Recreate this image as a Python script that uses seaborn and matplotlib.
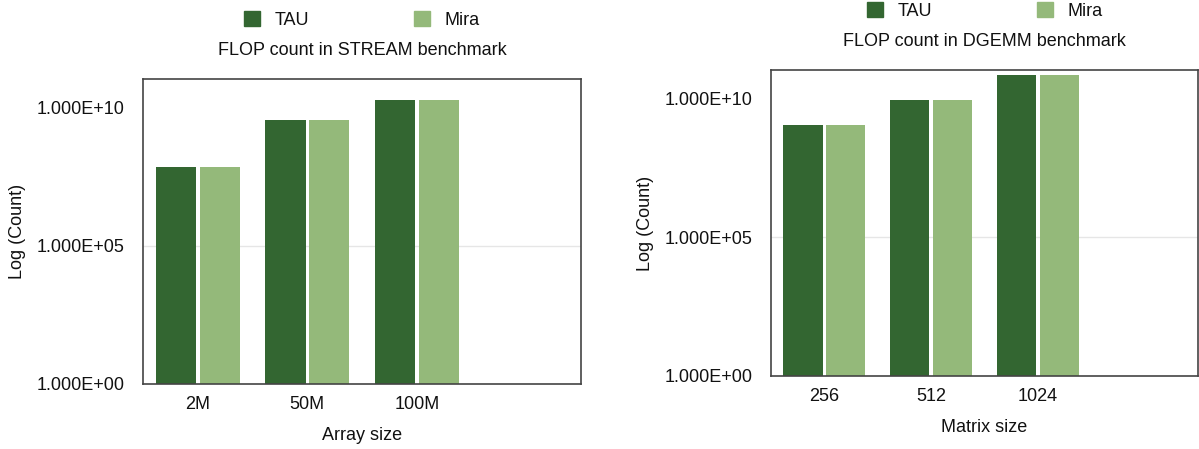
import numpy as np
import pandas as pd
import matplotlib
matplotlib.use('Agg')
import matplotlib.pyplot as plt
import seaborn as sns
from matplotlib.ticker import FixedLocator, FuncFormatter, NullLocator
from matplotlib.patches import Patch

# data
stream_sizes = ['2M', '50M', '100M']
stream_tau = [7.2e7, 3.7e9, 1.9e10]
stream_mira = [7.2e7, 3.7e9, 1.9e10]

dgemm_sizes = ['256', '512', '1024']
dgemm_tau = [1.1e9, 9.2e9, 7.3e10]
dgemm_mira = [1.1e9, 9.2e9, 7.3e10]

tools = ['TAU', 'Mira']
palette = {'TAU': '#336631', 'Mira': '#94b97a'}

sns.set_theme(style='white')
plt.rcParams['font.family'] = ['Liberation Sans', 'DejaVu Sans']
plt.rcParams['font.size'] = 13


def make_frame(sizes, tau, mira):
    df = pd.DataFrame({'size': sizes * 2,
                       'tool': ['TAU'] * len(sizes) + ['Mira'] * len(sizes),
                       'count': list(tau) + list(mira)})
    return df


def draw_panel(ax, sizes, tau, mira, title, xlabel):
    df = make_frame(sizes, tau, mira)
    # empty 4th slot like the original
    order = sizes + [' ']
    sns.barplot(data=df, x='size', y='count', hue='tool', order=order,
                hue_order=tools, palette=palette, width=0.8, gap=0.08,
                saturation=1, linewidth=0, ax=ax, legend=False)
    ax.set_yscale('log')
    ax.set_ylim(1, 1.1e11)
    ax.yaxis.set_major_locator(FixedLocator([1, 1e5, 1e10]))
    ax.yaxis.set_minor_locator(NullLocator())
    ax.yaxis.set_major_formatter(FuncFormatter(lambda v, p: f'{v:.3E}'))
    ax.axhline(1e5, color='#e6e6e6', lw=1, zorder=0)
    ax.tick_params(axis='both', length=0, labelsize=13, colors='#111111')
    ax.tick_params(axis='x', pad=9)
    ax.tick_params(axis='y', pad=13)
    ax.set_ylabel('Log (Count)', fontsize=13, labelpad=8, color='#111111')
    ax.set_xlabel(xlabel, fontsize=13, labelpad=10, color='#111111')
    for s in ax.spines.values():
        s.set_color('#444444')
        s.set_linewidth(1.2)
    ax.set_title(title, fontsize=13, pad=17, color='#111111')
    handles = [Patch(color=palette[t], label=t) for t in tools]
    leg = ax.legend(handles=handles, ncol=2, frameon=False, loc='lower center',
                    bbox_to_anchor=(0.5, 1.14), fontsize=13, handlelength=0.9,
                    handleheight=0.9, columnspacing=5.8, handletextpad=0.8,
                    borderaxespad=0)
    for t in leg.get_texts():
        t.set_color('#111111')


fig = plt.figure(figsize=(11.99, 4.49), dpi=100)
ax1 = fig.add_axes([0.1193, 0.1448, 0.3653, 0.6793])
ax2 = fig.add_axes([0.6430, 0.1626, 0.3562, 0.6815])

draw_panel(ax1, stream_sizes, stream_tau, stream_mira,
           'FLOP count in STREAM benchmark', 'Array size')
draw_panel(ax2, dgemm_sizes, dgemm_tau, dgemm_mira,
           'FLOP count in DGEMM benchmark', 'Matrix size')

fig.savefig('out.png', dpi=100)
